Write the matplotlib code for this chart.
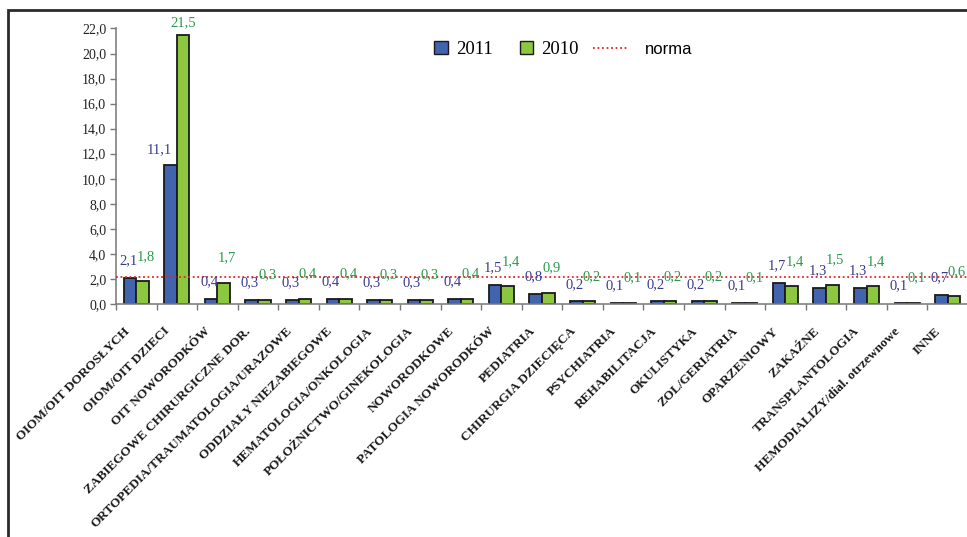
import numpy as np
import matplotlib.pyplot as plt
from matplotlib.patches import Patch, Rectangle
from matplotlib.lines import Line2D

# Kategorie oddziałów i wskaźniki dla dwóch lat
oddzialy = [
    "OIOM/OIT DOROSŁYCH", "OIOM/OIT DZIECI", "OIT NOWORODKÓW",
    "ZABIEGOWE CHIRURGICZNE DOR.", "ORTOPEDIA/TRAUMATOLOGIA/URAZOWE",
    "ODDZIAŁY NIEZABIEGOWE", "HEMATOLOGIA/ONKOLOGIA",
    "POŁOŻNICTWO/GINEKOLOGIA", "NOWORODKOWE", "PATOLOGIA NOWORODKÓW",
    "PEDIATRIA", "CHIRURGIA DZIECIĘCA", "PSYCHIATRIA", "REHABILITACJA",
    "OKULISTYKA", "ZOL/GERIATRIA", "OPARZENIOWY", "ZAKAŹNE",
    "TRANSPLANTOLOGIA", "HEMODIALIZY/dial. otrzewnowe", "INNE",
]
w2011 = [2.1, 11.1, 0.4, 0.3, 0.3, 0.4, 0.3, 0.3, 0.4, 1.5, 0.8,
         0.2, 0.1, 0.2, 0.2, 0.1, 1.7, 1.3, 1.3, 0.1, 0.7]
w2010 = [1.8, 21.5, 1.7, 0.3, 0.4, 0.4, 0.3, 0.3, 0.4, 1.4, 0.9,
         0.2, 0.1, 0.2, 0.2, 0.1, 1.4, 1.5, 1.4, 0.1, 0.6]
norma = 2.15
yticks = np.arange(0, 22.1, 2.0)

niebieski = "#4263ae"
zielony = "#8dc63f"
kol_2011 = "#3b3b8e"
kol_2010 = "#2a9a4c"
czerwony = "#e3262a"

# przesunięcia etykiet (piksele) tam, gdzie domyślne nachodzą na słupki
przes_2011 = {1: (-11, 15)}
przes_2010 = {1: (0, 12)}

fig = plt.figure(figsize=(9.67, 5.37), dpi=100)
ax = fig.add_axes([0.12, 0.434, 0.881, 0.513])

x = np.arange(len(oddzialy))
bw = 0.31
ax.bar(x - bw / 2, w2011, bw, color=niebieski, edgecolor="#1a1a1a", linewidth=1.3, zorder=2)
ax.bar(x + bw / 2, w2010, bw, color=zielony, edgecolor="#1a1a1a", linewidth=1.3, zorder=2)
ax.axhline(norma, color=czerwony, linestyle=(0, (1, 1.5)), linewidth=1.3, zorder=3)

# etykiety wartości z przecinkiem dziesiętnym
for i, v in enumerate(w2011):
    ax.annotate(f"{v:.1f}".replace(".", ","), (x[i] - bw / 2, v),
                xytext=przes_2011.get(i, (-2, 17)), textcoords="offset pixels",
                ha="center", va="center", fontsize=10.5,
                family="Liberation Serif", color=kol_2011)
for i, v in enumerate(w2010):
    ax.annotate(f"{v:.1f}".replace(".", ","), (x[i] + bw / 2, v),
                xytext=przes_2010.get(i, (3, 25)), textcoords="offset pixels",
                ha="center", va="center", fontsize=10.5,
                family="Liberation Serif", color=kol_2010)

ax.set_xlim(-0.5, len(oddzialy) - 0.5)
ax.set_ylim(0, 22)
ax.set_yticks(yticks)
ax.set_yticklabels([f"{t:.1f}".replace(".", ",") for t in yticks],
                   family="Liberation Serif", fontsize=10, color="#222222")
ax.set_xticks(np.arange(len(oddzialy) + 1) - 0.5)
ax.set_xticklabels([])
ax.tick_params(axis="both", color="#777777", length=4, width=1)
ax.tick_params(axis="y", pad=3)

for s in ["top", "right"]:
    ax.spines[s].set_visible(False)
for s in ["left", "bottom"]:
    ax.spines[s].set_color("#808080")
    ax.spines[s].set_linewidth(1.2)

# opisy kategorii pod kątem 45 stopni
for xi, name in zip(x, oddzialy):
    ax.text(xi - 0.32, -1.7, name, rotation=45, rotation_mode="anchor",
            ha="right", va="top", fontsize=9.5, fontweight="bold",
            family="Liberation Serif", color="#1a1a1a")

# legenda
leg1 = ax.legend(handles=[Patch(facecolor=niebieski, edgecolor="#1a1a1a", label="2011"),
                          Patch(facecolor=zielony, edgecolor="#1a1a1a", label="2010")],
                 ncol=2, frameon=False, loc="center left",
                 bbox_to_anchor=(0.365, 0.925), handlelength=0.7, handleheight=0.7,
                 columnspacing=1.45, handletextpad=0.45, borderaxespad=0,
                 prop={"family": "Liberation Serif", "size": 13.5})
ax.add_artist(leg1)
ax.legend(handles=[Line2D([], [], color=czerwony, linestyle=(0, (1, 1.5)), linewidth=1.3, label="norma")],
          frameon=False, loc="center left", bbox_to_anchor=(0.552, 0.925),
          handlelength=2.1, handletextpad=1.0, borderaxespad=0,
          prop={"family": "Liberation Sans", "size": 12})

# ramka wokół wykresu
fig.patches.append(Rectangle((8 / 967, -0.1), 1.2, 1 - 10 / 537 + 0.1, transform=fig.transFigure,
                             fill=False, edgecolor="#2a2a2a", linewidth=2))

fig.savefig("out.png", dpi=100)
